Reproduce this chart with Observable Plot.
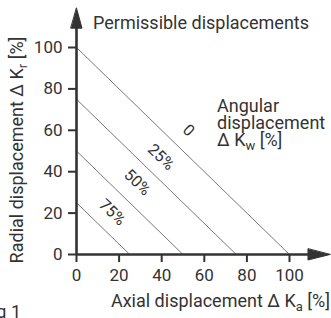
<!DOCTYPE html>
<html><head><meta charset="utf-8">
<script src="https://cdn.jsdelivr.net/npm/d3@7"></script>
<script src="https://cdn.jsdelivr.net/npm/@observablehq/plot@0.6"></script>
<style>body{margin:0;background:#fff} svg{display:block}</style>
</head><body><div id="chart"></div>
<script>
// Angular displacement levels and the lines x + y = intercept
const angularLevels = ["0", "25%", "50%", "75%"];
const lineIntercepts = [100, 75, 50, 25];
// label anchor points (data units)
const labelX = [52.6, 39.7, 28.5, 16.8];
const labelY = [59.9, 47.0, 34.9, 20.4];
const xTicks = [0, 20, 40, 60, 80, 100];
const yTicks = [0, 20, 40, 60, 80, 100];
const axisEnd = 119;

const lines = lineIntercepts.map(c => ({x1: 0, y1: c, x2: c, y2: 0}));
const labels = angularLevels.map((t, i) => ({t, x: labelX[i], y: labelY[i]}));

const ink = "#333";
const font = "Roboto, sans-serif";
const tri = {
  draw(context, l, r) {
    const w = 5.5;
    context.moveTo(0, -l);
    context.lineTo(w, 0);
    context.lineTo(-w, 0);
    context.closePath();
  }
};

const plot = Plot.plot({
  width: 331, height: 318,
  marginLeft: 76, marginRight: 42, marginTop: 47, marginBottom: 64,
  style: {fontFamily: font, fontSize: "17px", color: ink, background: "#fff"},
  x: {domain: [0, 100]},
  y: {domain: [0, 100]},
  marks: [
    Plot.link(lines, {x1: "x1", y1: "y1", x2: "x2", y2: "y2", stroke: "#555", strokeWidth: 0.8}),
    Plot.text(labels, {x: "x", y: "y", text: "t", rotate: 44, fontSize: 16, fill: ink}),
    Plot.axisX(xTicks, {tickSize: 8, tickPadding: 6, strokeWidth: 2, stroke: ink, fill: ink, label: null, fontSize: 17}),
    Plot.axisY(yTicks, {tickSize: 8, tickPadding: 6, strokeWidth: 2, stroke: ink, fill: ink, label: null, fontSize: 17}),
    Plot.ruleY([0], {x1: 0, x2: axisEnd - 6, stroke: ink, strokeWidth: 2.6}),
    Plot.ruleX([0], {y1: 0, y2: axisEnd - 6, stroke: ink, strokeWidth: 2.6}),
    Plot.vector([0], {x: axisEnd, y: 0, length: 22, rotate: 90, anchor: "end", shape: tri, fill: ink, stroke: ink, strokeWidth: 1}),
    Plot.vector([0], {x: 0, y: axisEnd, length: 20, rotate: 0, anchor: "end", shape: tri, fill: ink, stroke: ink, strokeWidth: 1})
  ]
});

const svg = d3.select(plot);
function sub(t, parts) {
  parts.forEach(([s, isSub], i) => {
    const ts = t.append("tspan").text(s);
    if (isSub) ts.attr("font-size", "0.72em").attr("dy", 4);
    else if (i > 0 && parts[i - 1][1]) ts.attr("dy", -4);
  });
}
const g = svg.append("g").attr("fill", ink).attr("font-family", font).attr("font-size", 18).attr("text-anchor", "start");
g.append("text").attr("x", 93).attr("y", 29).text("Permissible displacements");
const ang = g.append("text");
ang.append("tspan").attr("x", 217).attr("y", 112).text("Angular");
ang.append("tspan").attr("x", 217).attr("y", 129).text("displacement");
const l3 = ang.append("tspan").attr("x", 217).attr("y", 146);
sub(l3, [["Δ K", false], ["w", true], [" [%]", false]]);
const yl = g.append("text").attr("text-anchor", "middle")
  .attr("transform", "translate(23,150) rotate(-90)");
sub(yl, [["Radial displacement Δ K", false], ["r", true], [" [%]", false]]);
const xl = g.append("text").attr("text-anchor", "end")
  .attr("x", 330).attr("y", 307);
sub(xl, [["Axial displacement Δ K", false], ["a", true], [" [%]", false]]);
g.append("text").attr("text-anchor", "end").attr("x", 21).attr("y", 318).text("Fig 1");

document.getElementById("chart").appendChild(plot);
</script>
</body></html>
